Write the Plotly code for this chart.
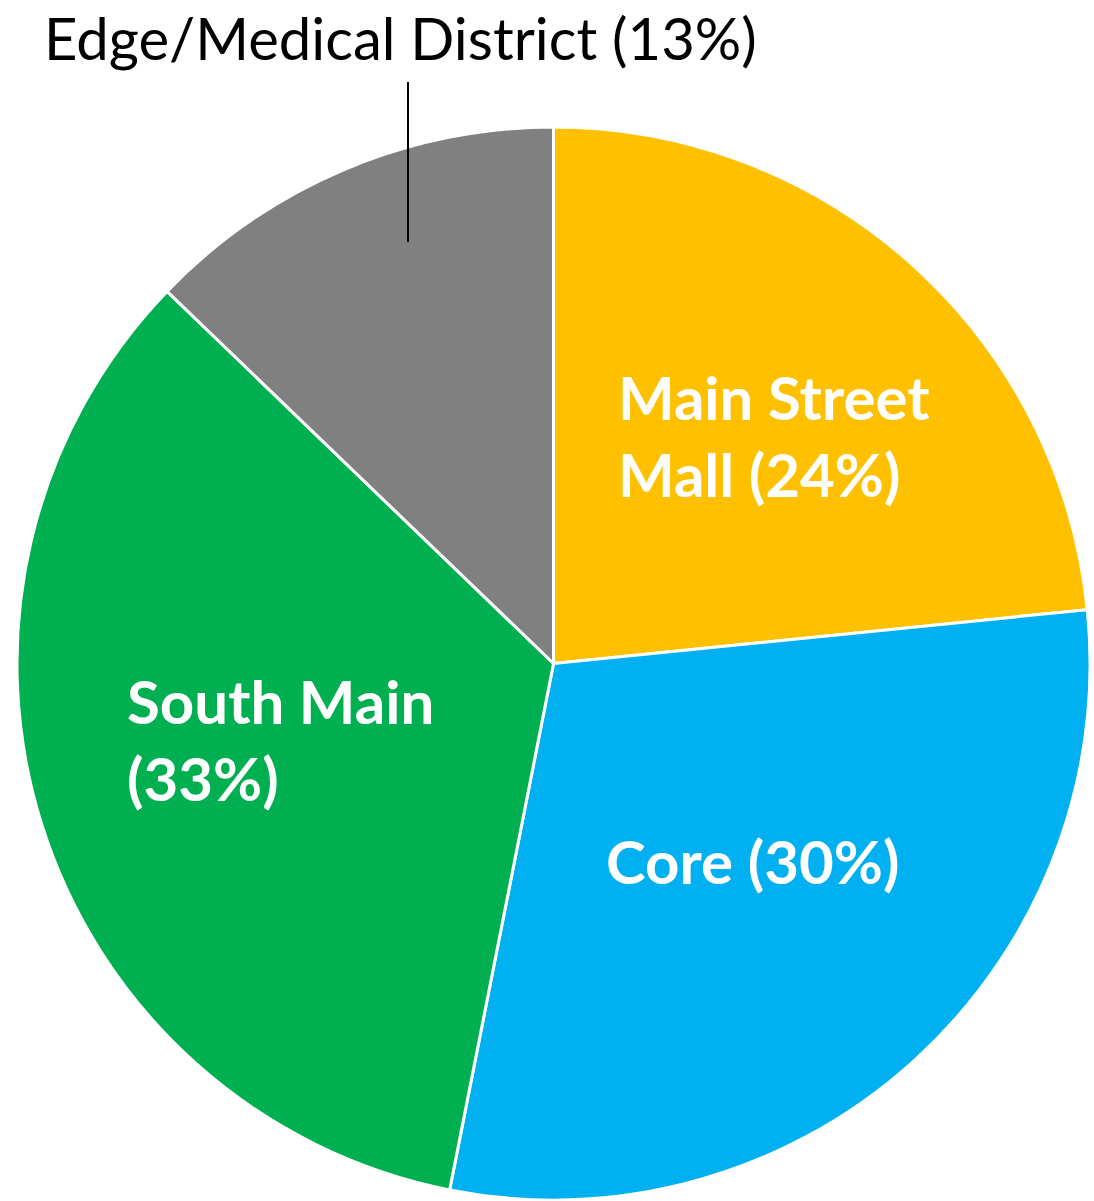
import plotly.graph_objects as go

categories = ["Main Street Mall", "Core", "South Main", "Edge/Medical District"]
values = [23.4, 29.7, 34.1, 12.8]
pct_labels = ["24%", "30%", "33%", "13%"]
colors = ["#FFC000", "#00B0F0", "#00B050", "#808080"]

W, H = 1094, 1201

fig = go.Figure(go.Pie(
    labels=categories,
    values=values,
    sort=False,
    direction="clockwise",
    rotation=0,
    marker=dict(colors=colors, line=dict(color="white", width=3)),
    textinfo="none",
    hoverinfo="label+percent",
    showlegend=False,
    domain=dict(x=[17 / W, 1090 / W], y=[1 - 1200 / H, 1 - 127 / H]),
))

def px(x, y):
    return x / W, 1 - y / H

bold = dict(family="Lato", size=60, color="white")
anns = []
lines_msm = ["Main Street", "Mall (" + pct_labels[0] + ")"]
for i, t in enumerate(lines_msm):
    x, y = px(616, 397 + 77 * i)
    anns.append(dict(x=x, y=y, text="<b>" + t + "</b>", xanchor="left", yanchor="middle", showarrow=False, font=bold))
x, y = px(604, 861)
anns.append(dict(x=x, y=y, text="<b>" + categories[1] + " (" + pct_labels[1] + ")</b>", xanchor="left", yanchor="middle", showarrow=False, font=bold))
lines_sm = [categories[2], "(" + pct_labels[2] + ")"]
for i, t in enumerate(lines_sm):
    x, y = px(125, 701 + 77 * i)
    anns.append(dict(x=x, y=y, text="<b>" + t + "</b>", xanchor="left", yanchor="middle", showarrow=False, font=bold))
x, y = px(42, 37)
anns.append(dict(x=x, y=y, text=categories[3] + " (" + pct_labels[3] + ")", xanchor="left", yanchor="middle", showarrow=False,
                 font=dict(family="Lato", size=58, color="black")))

x0, y0 = px(408, 82)
x1, y1 = px(408, 242)
fig.add_shape(type="line", xref="paper", yref="paper", x0=x0, y0=y0, x1=x1, y1=y1, line=dict(color="black", width=2))

fig.update_layout(
    width=W, height=H,
    margin=dict(l=0, r=0, t=0, b=0),
    paper_bgcolor="white", plot_bgcolor="white",
    annotations=anns,
)

fig.write_html("out.html", config={"displayModeBar": False},
               post_script="document.body.style.margin='0';")
